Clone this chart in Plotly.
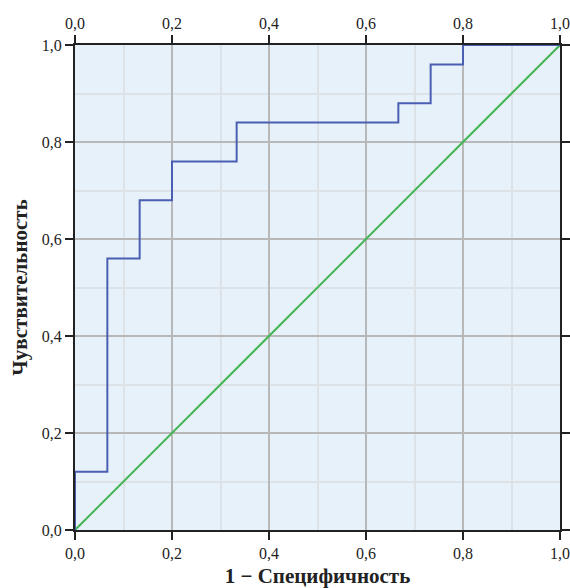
import plotly.graph_objects as go

# ROC step curve (1 - specificity, sensitivity)
fpr = [0.0, 0.0, 0.0667, 0.0667, 0.1333, 0.1333, 0.2, 0.2, 0.3333, 0.3333,
       0.6667, 0.6667, 0.7333, 0.7333, 0.8, 0.8, 1.0]
tpr = [0.0, 0.12, 0.12, 0.56, 0.56, 0.68, 0.68, 0.76, 0.76, 0.84,
       0.84, 0.88, 0.88, 0.96, 0.96, 1.0, 1.0]
ref_x = [0.0, 1.0]
ref_y = [0.0, 1.0]
tick_vals = [0.0, 0.2, 0.4, 0.6, 0.8, 1.0]
tick_text = ["0,0", "0,2", "0,4", "0,6", "0,8", "1,0"]

FONT = "Liberation Serif, Times New Roman, serif"

fig = go.Figure()
fig.add_trace(go.Scatter(x=ref_x, y=ref_y, mode="lines",
                         line=dict(color="#45B553", width=2), showlegend=False,
                         hoverinfo="skip", cliponaxis=False))
fig.add_trace(go.Scatter(x=fpr, y=tpr, mode="lines",
                         line=dict(color="#4A5EB2", width=2), showlegend=False,
                         cliponaxis=False))
# dummy trace for top axis
fig.add_trace(go.Scatter(x=[0, 1], y=[0, 1], xaxis="x2", mode="lines",
                         line=dict(width=0), showlegend=False, hoverinfo="skip"))

common = dict(range=[0, 1], tickvals=tick_vals, ticktext=tick_text,
              ticks="outside", ticklen=8, tickwidth=2, tickcolor="#222222",
              showline=True, linecolor="#222222", linewidth=2, automargin=False,
              zeroline=False, tickfont=dict(family=FONT, size=16, color="#222222"))

fig.update_layout(
    width=570, height=588,
    margin=dict(l=75, r=10, t=45, b=58),
    paper_bgcolor="white", plot_bgcolor="#E7F1FA",
    font=dict(family=FONT, color="#222222"),
    xaxis=dict(**common, showgrid=True, gridcolor="#B8B8B8", gridwidth=2,
               minor=dict(dtick=0.1, tick0=0, showgrid=True, gridcolor="#DDE2E7", gridwidth=2, ticks=""),
               title=dict(text="<b>1 − Специфичность</b>", font=dict(family=FONT, size=21), standoff=10)),
    xaxis2=dict(**common, overlaying="x", side="top", showgrid=False),
    yaxis=dict(**common, mirror="ticks", showgrid=True, gridcolor="#B8B8B8", gridwidth=2,
               minor=dict(dtick=0.1, tick0=0, showgrid=True, gridcolor="#DDE2E7", gridwidth=2, ticks=""),
               title=dict(text="<b>Чувствительность</b>", font=dict(family=FONT, size=21), standoff=8)),
)

fig.write_html("out.html", config={"displayModeBar": False},
               post_script="document.body.style.margin='0';document.body.style.overflow='hidden';")
